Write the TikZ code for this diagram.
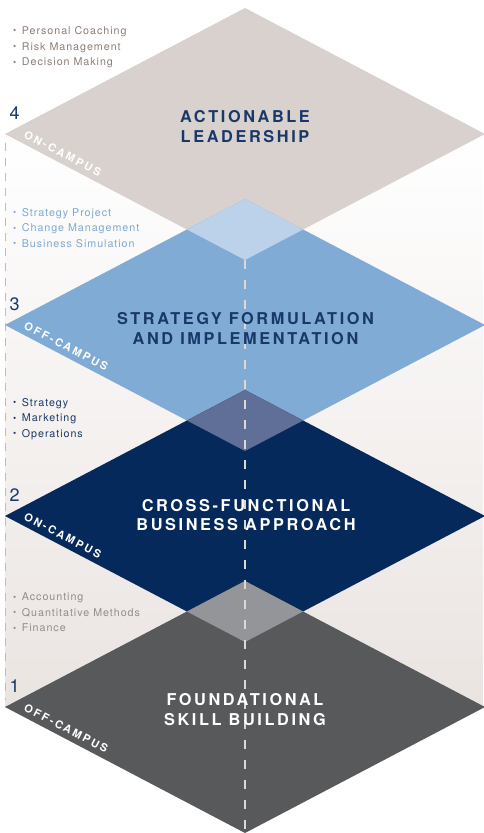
\documentclass[tikz,border=0pt]{standalone}
\usepackage{fontspec}
\setmainfont{TeX Gyre Heros}
\newfontfamily\titlefont[LetterSpace=16]{TeX Gyre Heros}
\newfontfamily\listfont[LetterSpace=9]{TeX Gyre Heros}
\newfontfamily\campusfont[LetterSpace=20]{TeX Gyre Heros}
\definecolor{dfour}{RGB}{217,209,205}
\definecolor{dthree}{RGB}{128,171,213}
\definecolor{dtwo}{RGB}{5,41,90}
\definecolor{done}{RGB}{88,89,91}
\definecolor{ofour}{RGB}{188,210,234}
\definecolor{othree}{RGB}{95,111,152}
\definecolor{otwo}{RGB}{148,149,152}
\definecolor{bgbeige}{RGB}{234,228,225}
\definecolor{navy}{RGB}{24,56,106}
\definecolor{lfour}{RGB}{140,126,119}
\definecolor{lthree}{RGB}{126,168,213}
\definecolor{ltwo}{RGB}{28,56,104}
\definecolor{lone}{RGB}{142,142,142}
\definecolor{leftdashc}{RGB}{198,186,180}
\definecolor{centerdashc}{RGB}{222,216,212}
\newcommand{\lbul}{\makebox[8.7pt][l]{\fontsize{9}{9}\selectfont\raisebox{0.6pt}{•}}}
\tikzset{
  ttl/.style={inner sep=0pt, anchor=base, font=\titlefont\bfseries\fontsize{16.3}{16}\selectfont},
  listtxt/.style={inner sep=0pt, anchor=base west, font=\listfont\fontsize{10.7}{10.7}\selectfont},
  campus/.style={inner sep=0pt, anchor=base west, rotate=-27.7, text=white, font=\campusfont\bfseries\fontsize{11}{11}\selectfont},
  num/.style={inner sep=0pt, anchor=base west, text=navy, font=\fontsize{18}{18}\selectfont},
  leftdash/.style={draw=leftdashc, line width=0.9pt, dash pattern=on 8pt off 7pt},
  centerdash/.style={draw=centerdashc, line width=1.1pt, dash pattern=on 9pt off 11pt}
}
\begin{document}
\begin{tikzpicture}[x=1pt,y=-1pt]
\useasboundingbox (0,0) rectangle (483,833);
\fill[white] (0,0) rectangle (483,833);
\shade[top color=white, bottom color=bgbeige] (5,134) rectangle (483,707);
% left dashed line
\coordinate (ldA) at (5.5,143);
\coordinate (ldB) at (5.5,700);
\draw[leftdash] (ldA) -- (ldB);
% diamonds
\coordinate (T4) at (245,8);   \coordinate (R4) at (485,134); \coordinate (B4) at (245,260); \coordinate (L4) at (5,134);
\coordinate (T3) at (245,199); \coordinate (R3) at (485,325); \coordinate (B3) at (245,451); \coordinate (L3) at (5,325);
\coordinate (T2) at (245,390); \coordinate (R2) at (485,516); \coordinate (B2) at (245,642); \coordinate (L2) at (5,516);
\coordinate (T1) at (245,581); \coordinate (R1) at (485,707); \coordinate (B1) at (245,833); \coordinate (L1) at (5,707);
\fill[dfour]  (T4) -- (R4) -- (B4) -- (L4) -- cycle;
\fill[dthree] (T3) -- (R3) -- (B3) -- (L3) -- cycle;
\fill[dtwo]   (T2) -- (R2) -- (B2) -- (L2) -- cycle;
\fill[done]   (T1) -- (R1) -- (B1) -- (L1) -- cycle;
\begin{scope}
  \clip (T3) -- (R3) -- (B3) -- (L3) -- cycle;
  \fill[ofour] (T4) -- (R4) -- (B4) -- (L4) -- cycle;
\end{scope}
\begin{scope}
  \clip (T2) -- (R2) -- (B2) -- (L2) -- cycle;
  \fill[othree] (T3) -- (R3) -- (B3) -- (L3) -- cycle;
\end{scope}
\begin{scope}
  \clip (T1) -- (R1) -- (B1) -- (L1) -- cycle;
  \fill[otwo] (T2) -- (R2) -- (B2) -- (L2) -- cycle;
\end{scope}
% center dashed line
\draw[centerdash] (B4) -- (B1);
% titles
\node[ttl, text=navy] (t4a) at (245,122.3) {ACTIONABLE};
\node[ttl, text=navy] (t4b) at (245,142.7) {LEADERSHIP};
\node[ttl, text=navy] (t3a) at (245.5,324.3) {STRATEGY FORMULATION};
\node[ttl, text=navy] (t3b) at (245.5,344.3) {AND IMPLEMENTATION};
\node[ttl, text=white] (t2a) at (246,511) {CROSS-FUNCTIONAL};
\node[ttl, text=white] (t2b) at (246,530.7) {BUSINESS APPROACH};
\node[ttl, text=white] (t1a) at (245,705) {FOUNDATIONAL};
\node[ttl, text=white] (t1b) at (245,725.7) {SKILL BUILDING};
% numbers
\node[num] (n4) at (9.5,119.5) {4};
\node[num] (n3) at (9.5,310.5) {3};
\node[num] (n2) at (9.5,501.5) {2};
\node[num] (n1) at (9.5,692.5) {1};
% campus labels
\node[campus] (c4) at (23,137) {ON-CAMPUS};
\node[campus] (c3) at (23,328) {OFF-CAMPUS};
\node[campus] (c2) at (23,519) {ON-CAMPUS};
\node[campus] (c1) at (23,710) {OFF-CAMPUS};
% lists
\foreach \t [count=\i] in {Personal Coaching, Risk Management, Decision Making}
  \node[listtxt, text=lfour] (la\i) at (13,{34.5+15.6*(\i-1)}) {\lbul\t};
\foreach \t [count=\i] in {Strategy Project, Change Management, Business Simulation}
  \node[listtxt, text=lthree] (lb\i) at (13,{216+15.6*(\i-1)}) {\lbul\t};
\foreach \t [count=\i] in {Strategy, Marketing, Operations}
  \node[listtxt, text=ltwo] (lc\i) at (13,{406+15.6*(\i-1)}) {\lbul\t};
\foreach \t [count=\i] in {Accounting, Quantitative Methods, Finance}
  \node[listtxt, text=lone] (ld\i) at (13,{600.7+15.6*(\i-1)}) {\lbul\t};
\end{tikzpicture}
\end{document}
